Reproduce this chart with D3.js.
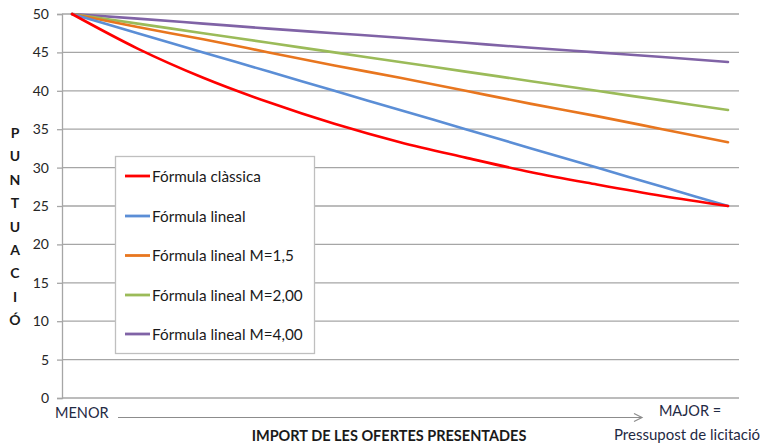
<!DOCTYPE html>
<html><head><meta charset="utf-8">
<script src="https://cdn.jsdelivr.net/npm/d3@7"></script>
<style>
body{margin:0;background:#fff;}
svg{display:block;font-family:Lato,"Open Sans",sans-serif;}
</style></head>
<body><svg id="c" width="766" height="443"></svg>
<script>
const steps = [0,1,2,3,4,5,6,7,8,9,10];
const seriesNames = ["Fórmula clàssica","Fórmula lineal","Fórmula lineal M=1,5","Fórmula lineal M=2,00","Fórmula lineal M=4,00"];
const classica = [50,45.5,41.7,38.5,35.7,33.3,31.3,29.4,27.8,26.3,25];
const lineal   = [50,47.5,45,42.5,40,37.5,35,32.5,30,27.5,25];
const linealM15 = [50,48.3,46.7,45,43.3,41.7,40,38.3,36.7,35,33.3];
const linealM2  = [50,48.75,47.5,46.25,45,43.75,42.5,41.25,40,38.75,37.5];
const linealM4  = [50,49.4,48.75,48.1,47.5,46.9,46.25,45.6,45,44.4,43.75];
const colors = ["#ff0000","#5b8ed6","#e8761f","#9bbb59","#8063a6"];
const yTicks = [0,5,10,15,20,25,30,35,40,45,50];
const yTitle = ["P","U","N","T","U","A","C","I","Ó"];

const svg = d3.select("#c");
const x = d3.scaleLinear().domain([0,10]).range([72,728]);
const y = d3.scaleLinear().domain([0,50]).range([398,14]);
const gridRight = 739, axisX = 62;

// gridlines
svg.append("g").selectAll("line").data(yTicks).join("line")
  .attr("x1",axisX).attr("x2",gridRight)
  .attr("y1",d=>y(d)).attr("y2",d=>y(d))
  .attr("stroke","#a6a6a6").attr("stroke-width",1.3);

// y axis
const ya = svg.append("g").attr("transform",`translate(${axisX},0)`)
  .call(d3.axisLeft(y).tickValues(yTicks).tickSize(5).tickPadding(8));
ya.select(".domain").attr("stroke","#a6a6a6").attr("stroke-width",1.3);
ya.selectAll(".tick line").attr("stroke","#a6a6a6").attr("stroke-width",1.3);
ya.selectAll(".tick text").attr("font-family","Lato,sans-serif").attr("font-size",14).attr("fill","#262626");

// lines
const allSeries = [classica,lineal,linealM15,linealM2,linealM4];
const line = d3.line().x((d,i)=>x(steps[i])).y(d=>y(d)).curve(d3.curveMonotoneX);
svg.append("g").selectAll("path").data(allSeries.slice().reverse()).join("path")
  .attr("d",line).attr("fill","none")
  .attr("stroke",(d,i)=>colors[4-i]).attr("stroke-width",2.6)
  .attr("stroke-linejoin","round").attr("stroke-linecap","round");

// legend
const lg = svg.append("g");
lg.append("rect").attr("x",115.5).attr("y",156.5).attr("width",199).attr("height",197)
  .attr("fill","#fff").attr("stroke","#bfbfbf").attr("stroke-width",1.3);
const ly = [176,216,255.5,295,334];
seriesNames.forEach((n,i)=>{
  lg.append("line").attr("x1",125).attr("x2",150).attr("y1",ly[i]).attr("y2",ly[i])
    .attr("stroke",colors[i]).attr("stroke-width",2.8);
  lg.append("text").attr("x",152).attr("y",ly[i]).attr("dy","0.36em")
    .attr("font-size",15.3).attr("fill","#1a1a1a").text(n);
});

// y title
svg.append("g").selectAll("text").data(yTitle).join("text")
  .attr("x",15).attr("y",(d,i)=>133+i*23.4).attr("dy","0.36em")
  .attr("text-anchor","middle").attr("font-weight","bold").attr("font-size",14)
  .attr("fill","#1a1a1a").text(d=>d);

// bottom annotations
svg.append("text").attr("x",55).attr("y",418).attr("font-size",14.5).attr("fill","#1f2a44").text("MENOR");
svg.append("line").attr("x1",118).attr("x2",642).attr("y1",417.5).attr("y2",417.5)
  .attr("stroke","#8c8c8c").attr("stroke-width",1.2);
svg.append("path").attr("d","M634,413.5 L642,417.5 L634,421.5").attr("fill","none")
  .attr("stroke","#8c8c8c").attr("stroke-width",1.2);
svg.append("text").attr("x",389).attr("y",441).attr("text-anchor","middle")
  .attr("font-weight","bold").attr("font-size",14.5).attr("fill","#1a1a1a").text("IMPORT DE LES OFERTES PRESENTADES");
svg.append("text").attr("x",690).attr("y",416).attr("text-anchor","middle")
  .attr("font-size",14.5).attr("fill","#1f2a44").text("MAJOR =");
svg.append("text").attr("x",687).attr("y",440).attr("text-anchor","middle")
  .attr("font-size",15).attr("fill","#1f2a44").text("Pressupost de licitació");
</script></body></html>
